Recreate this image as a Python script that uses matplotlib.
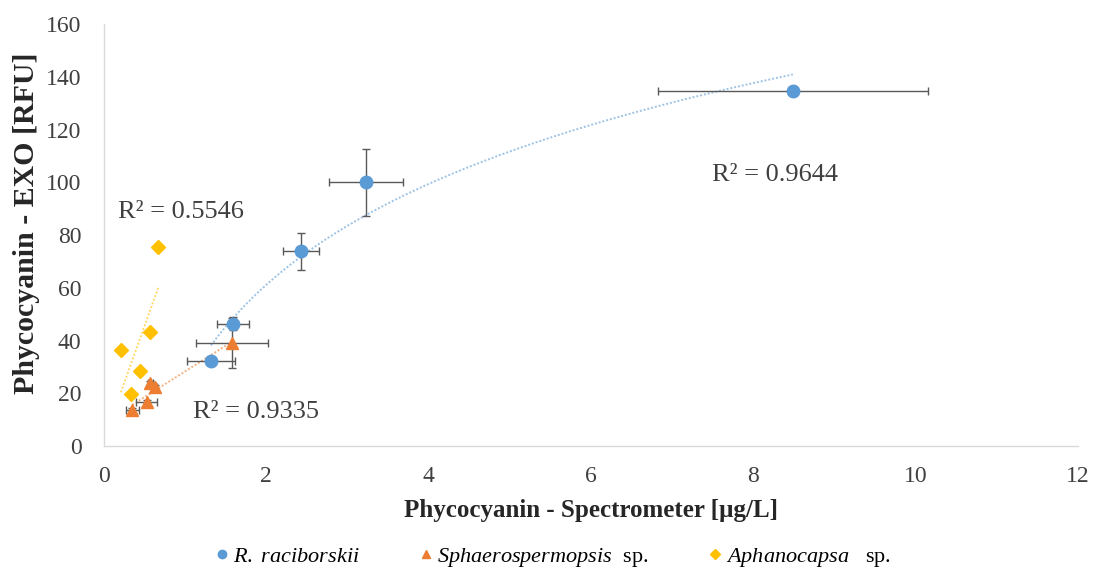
import numpy as np
import matplotlib
matplotlib.use("Agg")
import matplotlib.pyplot as plt
from matplotlib.lines import Line2D

plt.rcParams['font.family'] = ['Liberation Serif', 'DejaVu Serif']
plt.rcParams['mathtext.fontset'] = 'custom'
plt.rcParams['mathtext.rm'] = 'Liberation Serif'
plt.rcParams['mathtext.it'] = 'Liberation Serif:italic'

# R. raciborskii
rac_x = [1.32, 1.59, 2.43, 3.23, 8.49]
rac_y = [32.2, 46.5, 73.9, 100.0, 134.5]
rac_xerr = [0.30, 0.20, 0.22, 0.46, 1.66]
rac_yerr = [1.5, 2.5, 7.0, 12.7, 1.0]

# Sphaerospermopsis sp.
sph_x = [0.35, 0.53, 0.57, 0.63, 1.58]
sph_y = [13.6, 16.7, 23.9, 22.3, 39.0]
sph_xerr = [0.08, 0.13, 0.03, 0.03, 0.44]
sph_yerr = [1.0, 1.0, 1.0, 1.0, 9.5]

# Aphanocapsa sp.
aph_x = [0.67, 0.57, 0.21, 0.44, 0.33]
aph_y = [75.4, 43.2, 36.4, 28.4, 19.7]

r2_labels = ["R² = 0.9644", "R² = 0.9335", "R² = 0.5546"]
series_labels = [r'$\mathit{R.\ raciborskii}$',
                 r'$\mathit{Sphaerospermopsis}$  sp.',
                 r'$\mathit{Aphanocapsa}$   sp.']

c_blue, c_orange, c_yellow = '#5B9BD5', '#ED7D31', '#FFC000'
c_err = '#595959'

fig = plt.figure(figsize=(10.93, 5.75), dpi=100)
ax = fig.add_axes([0.095, 0.224, 0.891, 0.734])

# trend lines: logarithmic for R. raciborskii, linear for the others
xs = np.linspace(min(rac_x), max(rac_x), 200)
a, b = np.polyfit(np.log(rac_x), rac_y, 1)
ax.plot(xs, a * np.log(xs) + b, ls=(0, (1, 1)), color='#9DC3E6', lw=1.4, zorder=1)

xs = np.linspace(min(sph_x), max(sph_x), 50)
m, k = np.polyfit(sph_x, sph_y, 1)
ax.plot(xs, m * xs + k, ls=(0, (1, 1)), color='#F4B183', lw=1.4, zorder=1)

xs = np.linspace(min(aph_x), max(aph_x), 50)
m, k = np.polyfit(aph_x, aph_y, 1)
ax.plot(xs, m * xs + k, ls=(0, (1, 1)), color='#FFD966', lw=1.4, zorder=1)

# series with error bars
ax.errorbar(rac_x, rac_y, xerr=rac_xerr, yerr=rac_yerr, fmt='o', ms=9,
            color=c_blue, ecolor=c_err, elinewidth=1.0, capsize=3, capthick=1.0,
            zorder=3)
ax.errorbar(sph_x, sph_y, xerr=sph_xerr, yerr=sph_yerr, fmt='^', ms=9,
            color=c_orange, ecolor=c_err, elinewidth=1.0, capsize=3, capthick=1.0,
            zorder=3)
ax.plot(aph_x, aph_y, 'D', ms=7.5, color=c_yellow, zorder=3)

ax.text(7.49, 103.0, r2_labels[0], fontsize=19, va='center', ha='left', color='#404040')
ax.text(1.10, 13.0, r2_labels[1], fontsize=19, va='center', ha='left', color='#404040')
ax.text(0.17, 88.6, r2_labels[2], fontsize=19, va='center', ha='left', color='#404040')

ax.set_xlim(0, 12)
ax.set_ylim(0, 160)
ax.set_xticks(range(0, 13, 2))
ax.set_yticks(range(0, 161, 20))
ax.tick_params(length=0, labelsize=17, colors='#404040')
ax.tick_params(axis='y', pad=16)
ax.tick_params(axis='x', pad=14)
for s in ['top', 'right']:
    ax.spines[s].set_visible(False)
for s in ['left', 'bottom']:
    ax.spines[s].set_color('#D9D9D9')
    ax.spines[s].set_linewidth(1.0)

ax.set_xlabel('Phycocyanin - Spectrometer [µg/L]', fontsize=18, fontweight='bold',
              color='#262626', labelpad=9)
ax.set_ylabel('Phycocyanin - EXO [RFU]', fontsize=21.5, fontweight='bold',
              color='#262626')
ax.yaxis.set_label_coords(-0.066, 0.528)

handles = [Line2D([], [], ls='none', marker='o', ms=6, color=c_blue),
           Line2D([], [], ls='none', marker='^', ms=6, color=c_orange),
           Line2D([], [], ls='none', marker='D', ms=5, color=c_yellow)]
fig.legend(handles, series_labels, loc='center', bbox_to_anchor=(0.505, 0.031),
           ncol=3, frameon=False, fontsize=16, handletextpad=0.1,
           columnspacing=2.6, handlelength=0.8)

fig.savefig('out.png', dpi=100)
